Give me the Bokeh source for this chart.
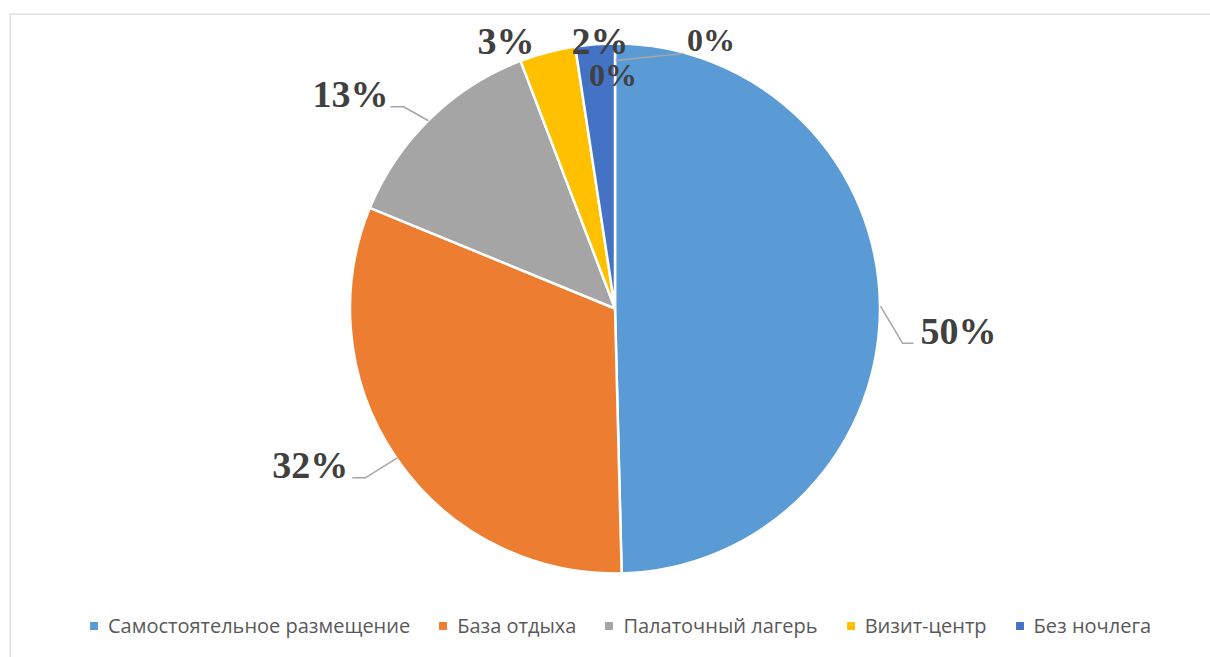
import numpy as np
from bokeh.plotting import figure
from bokeh.models import Range1d, Span, Legend, LegendItem, ColumnDataSource
from bokeh.core.properties import value
from bokeh.embed import file_html
from bokeh.resources import INLINE

# ---------------- data ----------------
categories = ["Самостоятельное размещение", "База отдыха", "Палаточный лагерь",
              "Визит-центр", "Без ночлега", "Прочее 1", "Прочее 2"]
shares = [49.6, 31.6, 13.0, 3.4, 2.4, 0.0, 0.0]
colors = ["#5B9BD5", "#ED7D31", "#A5A5A5", "#FFC000", "#4472C4", "#70AD47", "#264478"]
legend_count = 5

# ---------------- layout ----------------
W, H = 1210, 657
FRAME_L, FRAME_T = 9, 13
CX, CY, R_PX = 614.5, 308.0, 265.0     # pie centre / radius in canvas px

# label offsets (px, y up) from the outer edge point at each slice's mid angle
lab_dx = [40.5, -48.5, -41.5, -41.5, 5.0, 96.0, -2.0]
lab_dy = [-26.0, -6.0, 25.0, 11.0, 3.0, 4.0, -31.0]
lab_align = ["left", "right", "right", "center", "center", "center", "center"]
lab_size = ["38px", "38px", "38px", "38px", "38px", "32px", "32px"]
# leader polylines (px offsets from edge point), None = no leader
leaders = [[(0.5, -1), (22.5, -38), (33.5, -38)],
           [(0.5, 1), (-31.5, -19), (-44.5, -19)],
           [(-1.5, -2), (-26.5, 12), (-39.5, 12)],
           None, None,
           [(0.5, -17), (68.5, -10)],
           None]

vals = np.array(shares, dtype=float)
frac = vals / vals.sum()
cum = np.concatenate([[0.0], np.cumsum(frac)])
start = np.pi / 2 - 2 * np.pi * cum[:-1]
end = np.pi / 2 - 2 * np.pi * cum[1:]
mid = (start + end) / 2
ex, ey = np.cos(mid), np.sin(mid)
labels = [f"{int(round(v))}%" for v in vals]

nz = vals > 0   # zero slices are not drawn (only labelled)
src = ColumnDataSource(dict(x=[0.0] * int(nz.sum()), y=[0.0] * int(nz.sum()),
                            start=start[nz], end=end[nz],
                            color=list(np.array(colors)[nz]), cat=list(np.array(categories)[nz])))

p = figure(width=W, height=H, output_backend="svg", toolbar_location=None,
           x_range=Range1d((FRAME_L - CX) / R_PX, (W - CX) / R_PX),
           y_range=Range1d((CY - H) / R_PX, (CY - FRAME_T) / R_PX),
           min_border_left=FRAME_L, min_border_top=FRAME_T, min_border_right=0, min_border_bottom=0)
p.axis.visible = False
p.grid.visible = False
p.outline_line_color = None
p.background_fill_color = "white"
p.border_fill_color = "white"

wr = p.wedge(x="x", y="y", radius=1.0, start_angle="start", end_angle="end", direction="clock",
             fill_color="color", line_color="white", line_width=2.5, source=src)

# leader lines
lx, ly = [], []
for i, pts in enumerate(leaders):
    if pts is None:
        continue
    lx.append([ex[i] + dx / R_PX for dx, dy in pts])
    ly.append([ey[i] + dy / R_PX for dx, dy in pts])
p.multi_line(lx, ly, line_color="#A6A6A6", line_width=1.5)

# data labels
tsrc = ColumnDataSource(dict(
    x=ex + np.array(lab_dx) / R_PX, y=ey + np.array(lab_dy) / R_PX,
    text=labels, align=lab_align, size=lab_size))
p.text(x="x", y="y", text="text", source=tsrc, text_align="align", text_baseline="alphabetic",
       text_font=value("Liberation Serif"), text_font_style="bold", text_font_size="size",
       text_color="#404040")

# chart frame (top + left edges visible)
p.add_layout(Span(location=p.y_range.end, dimension="width", line_color="#D9D9D9", line_width=2.5))
p.add_layout(Span(location=p.x_range.start, dimension="height", line_color="#D9D9D9", line_width=2.5))

items = [LegendItem(label=categories[i], renderers=[wr], index=i) for i in range(legend_count)]
legend = Legend(items=items, orientation="horizontal", location=(78, 18),
                label_text_font="Open Sans", label_text_font_size="20px", label_text_color="#595959",
                glyph_width=13, glyph_height=13, label_standoff=8, spacing=26,
                padding=0, margin=0, border_line_color=None, background_fill_alpha=0)
p.add_layout(legend)

open("out.html", "w").write(file_html(p, INLINE))
